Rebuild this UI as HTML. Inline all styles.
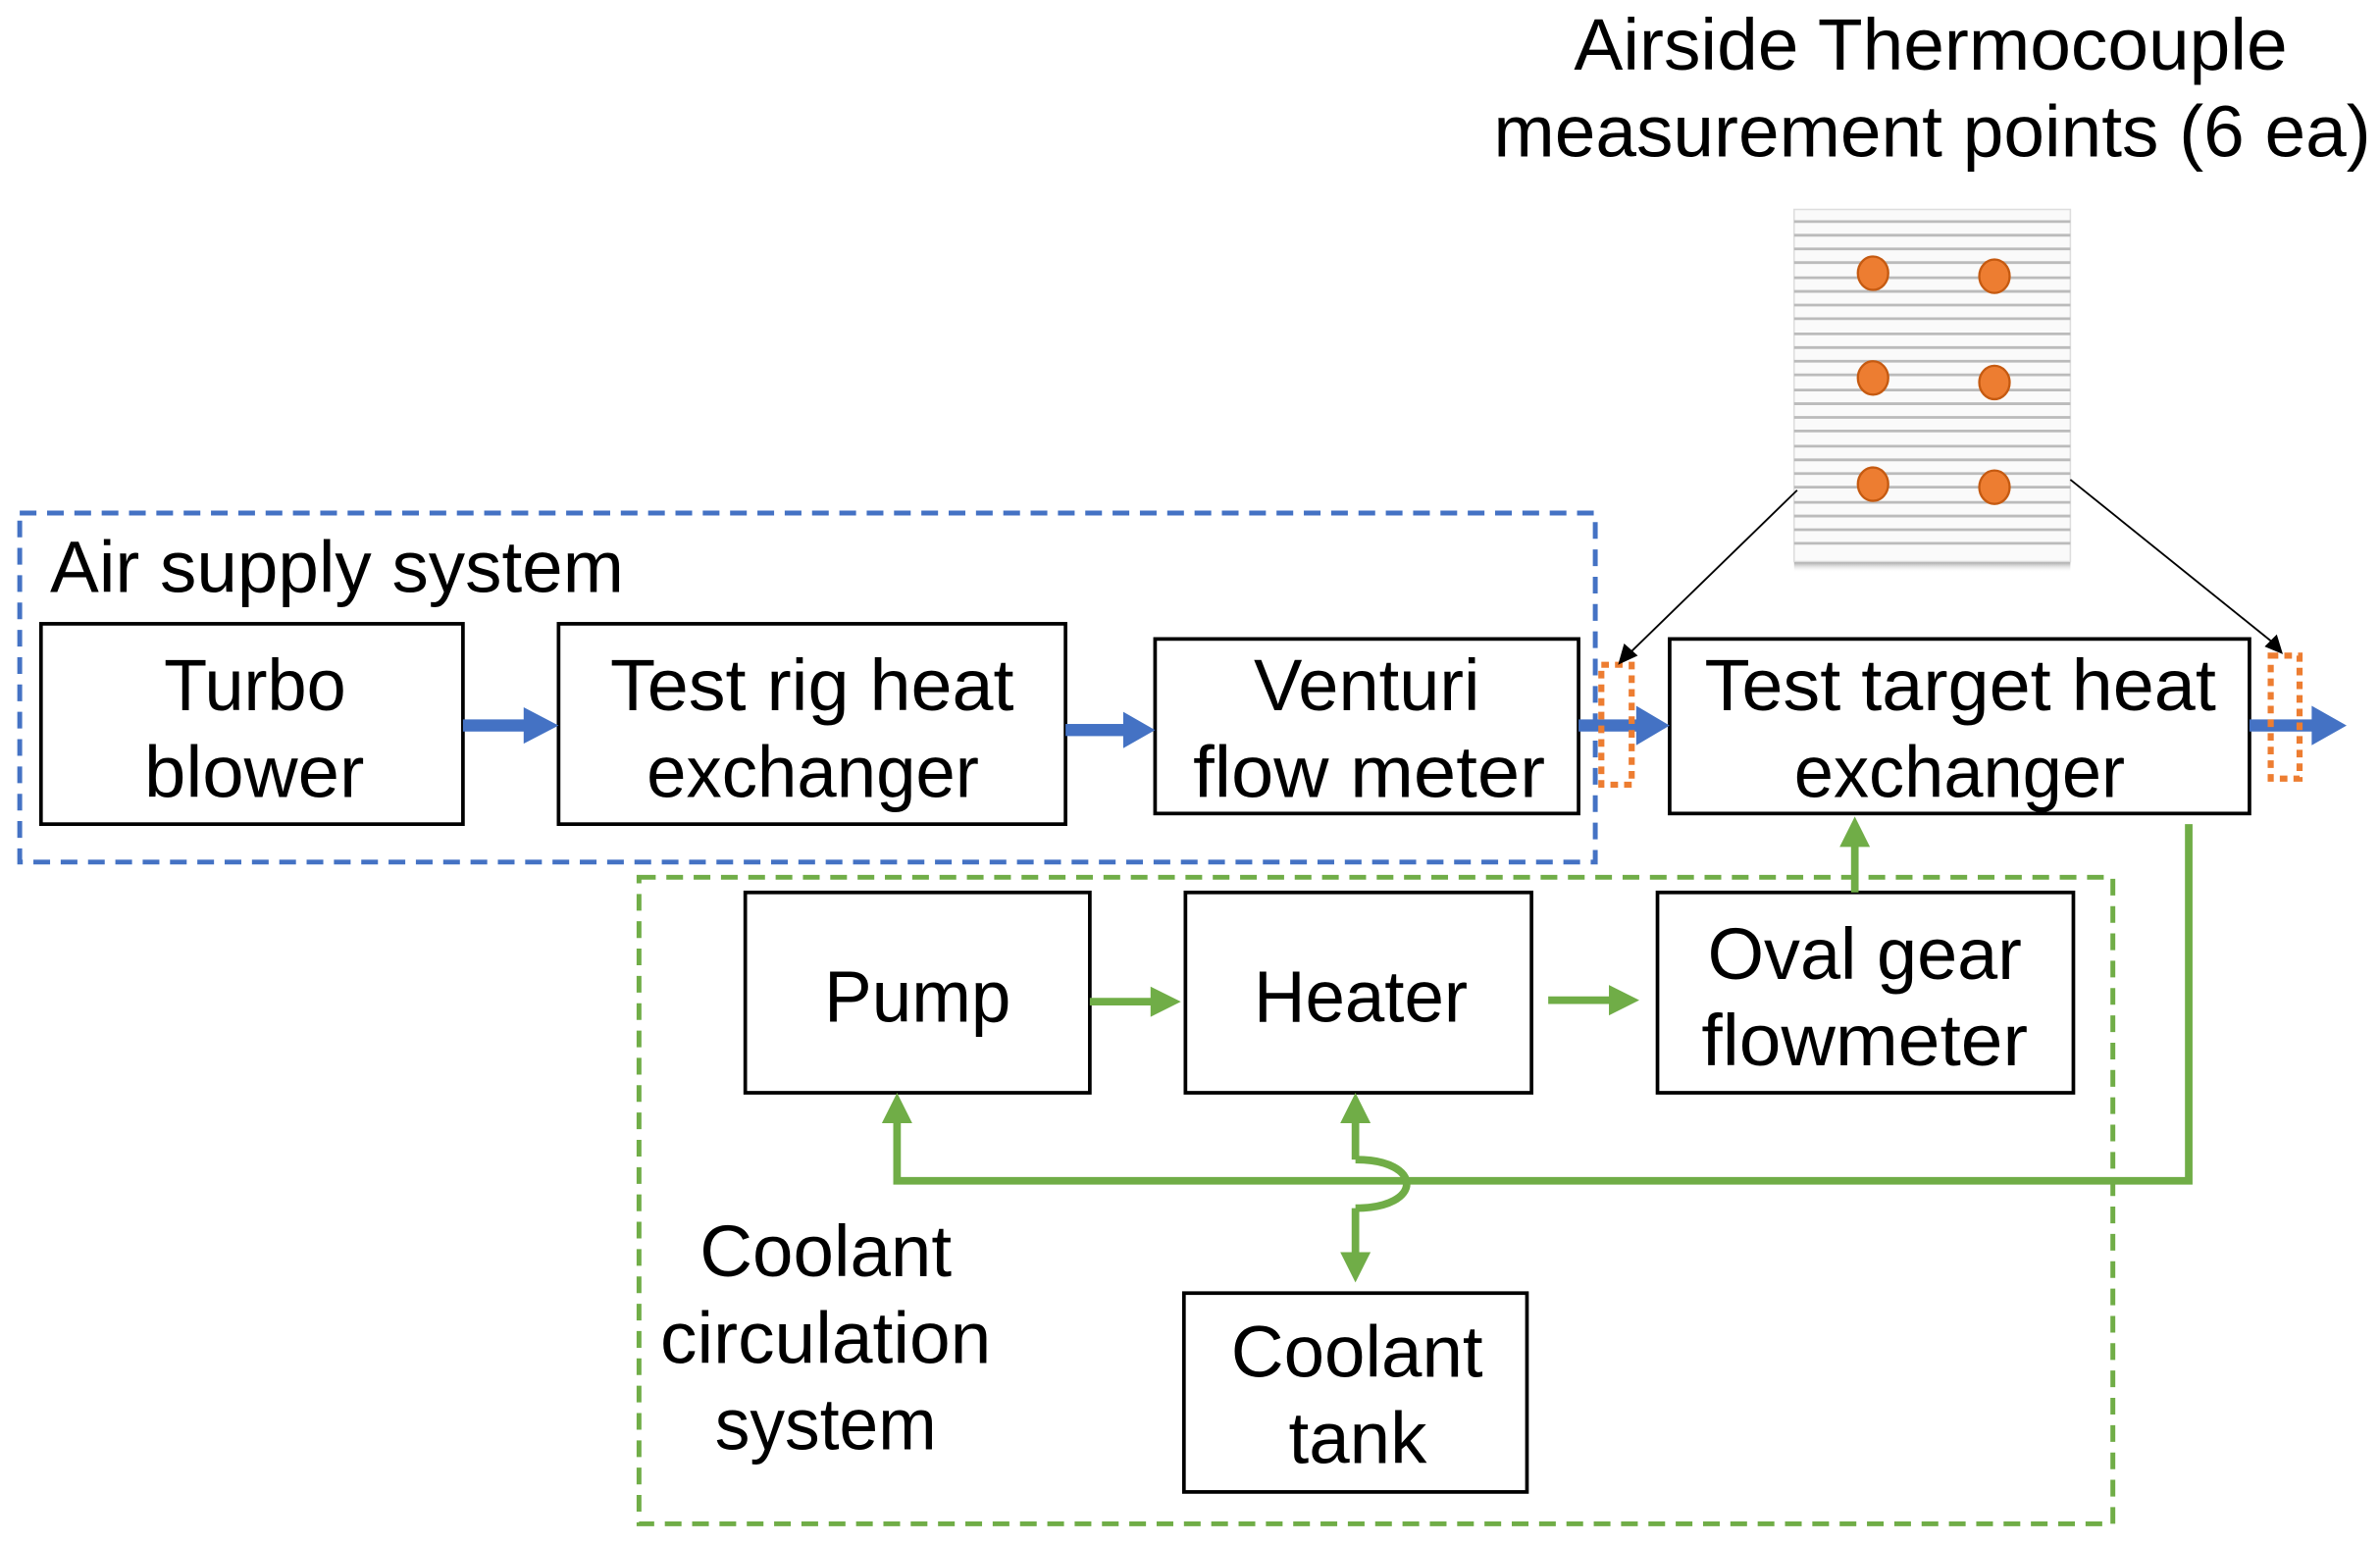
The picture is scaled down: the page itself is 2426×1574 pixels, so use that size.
<!DOCTYPE html>
<html><head><meta charset="utf-8"><style>html,body{margin:0;padding:0;background:#fff}svg{display:block}text{font-family:"Liberation Sans",sans-serif;fill:#000}</style></head><body>
<svg width="2426" height="1574" viewBox="0 0 1568 1017.3" preserveAspectRatio="none" xmlns="http://www.w3.org/2000/svg">
<defs>
<linearGradient id="sh" x1="0" y1="0" x2="0" y2="1"><stop offset="0" stop-color="#999"/><stop offset="1" stop-color="#fff" stop-opacity="0"/></linearGradient>
</defs>
<g font-size="48">
<text x="1037" y="46" textLength="470" lengthAdjust="spacingAndGlyphs">Airside Thermocouple</text>
<text x="984" y="103" textLength="578" lengthAdjust="spacingAndGlyphs">measurement points (6 ea)</text>
<text x="33" y="390" textLength="378" lengthAdjust="spacingAndGlyphs">Air supply system</text>
<text x="108" y="468" textLength="120" lengthAdjust="spacingAndGlyphs">Turbo</text>
<text x="95" y="525" textLength="145" lengthAdjust="spacingAndGlyphs">blower</text>
<text x="402" y="468" textLength="266" lengthAdjust="spacingAndGlyphs">Test rig heat</text>
<text x="426" y="525" textLength="219" lengthAdjust="spacingAndGlyphs">exchanger</text>
<text x="826" y="468" textLength="149" lengthAdjust="spacingAndGlyphs">Venturi</text>
<text x="786" y="525" textLength="232" lengthAdjust="spacingAndGlyphs">flow meter</text>
<text x="1123" y="468" textLength="337" lengthAdjust="spacingAndGlyphs">Test target heat</text>
<text x="1182" y="525" textLength="218" lengthAdjust="spacingAndGlyphs">exchanger</text>
<text x="543" y="673" textLength="123" lengthAdjust="spacingAndGlyphs">Pump</text>
<text x="826" y="673" textLength="141" lengthAdjust="spacingAndGlyphs">Heater</text>
<text x="1125" y="645" textLength="207" lengthAdjust="spacingAndGlyphs">Oval gear</text>
<text x="1121" y="702" textLength="215" lengthAdjust="spacingAndGlyphs">flowmeter</text>
<text x="461" y="841" textLength="166" lengthAdjust="spacingAndGlyphs">Coolant</text>
<text x="435" y="898" textLength="218" lengthAdjust="spacingAndGlyphs">circulation</text>
<text x="471" y="955" textLength="146" lengthAdjust="spacingAndGlyphs">system</text>
<text x="811" y="907" textLength="166" lengthAdjust="spacingAndGlyphs">Coolant</text>
<text x="849" y="964" textLength="91" lengthAdjust="spacingAndGlyphs">tank</text>
</g>
<rect x="13" y="338" width="1038" height="230" fill="none" stroke="#4472c4" stroke-width="3.2" stroke-dasharray="11,7"/>
<rect x="421" y="578" width="971" height="426" fill="none" stroke="#70ad47" stroke-width="3.2" stroke-dasharray="11,7"/>
<g fill="none" stroke="#000" stroke-width="2.4">
<rect x="27" y="411" width="278" height="132"/>
<rect x="368" y="411" width="334" height="132"/>
<rect x="761" y="421" width="279" height="115"/>
<rect x="1100" y="421" width="382" height="115"/>
<rect x="491" y="588" width="227" height="132"/>
<rect x="781" y="588" width="228" height="132"/>
<rect x="1092" y="588" width="274" height="132"/>
<rect x="780" y="852" width="226" height="131"/>
</g>
<g fill="#4472c4">
<rect x="305" y="474" width="42" height="8"/><path d="M345,466L368,478L345,490Z"/>
<rect x="702" y="477" width="40" height="8"/><path d="M740,469L761,481L740,493Z"/>
<rect x="1040" y="474" width="40" height="8"/><path d="M1078,465L1100,478L1078,491Z"/>
<rect x="1482" y="474" width="43" height="8"/><path d="M1523,465L1546,478L1523,491Z"/>
</g>
<rect x="1055" y="438" width="20" height="79" fill="none" stroke="#ed7d31" stroke-width="4" stroke-dasharray="5,4"/>
<rect x="1496" y="432" width="19" height="81" fill="none" stroke="#ed7d31" stroke-width="4" stroke-dasharray="5,4"/>
<rect x="1182" y="370" width="182" height="7" fill="url(#sh)"/>
<rect x="1182" y="138" width="182" height="232" fill="#fafafa" stroke="#ddd" stroke-width="1"/>
<g stroke="#bbb" stroke-width="1.8">
<path d="M1182,146H1364M1182,155H1364M1182,164H1364M1182,173H1364M1182,183H1364M1182,192H1364M1182,201H1364M1182,210H1364M1182,220H1364M1182,229H1364M1182,238H1364M1182,247H1364M1182,257H1364M1182,266H1364M1182,275H1364M1182,284H1364M1182,294H1364M1182,303H1364M1182,312H1364M1182,321H1364M1182,331H1364M1182,340H1364M1182,349H1364M1182,358H1364"/>
</g>
<g fill="#ed7d31" stroke="#c55a11" stroke-width="1.5">
<ellipse cx="1234" cy="180" rx="10" ry="11"/><ellipse cx="1314" cy="182" rx="10" ry="11"/>
<ellipse cx="1234" cy="249" rx="10" ry="11"/><ellipse cx="1314" cy="252" rx="10" ry="11"/>
<ellipse cx="1234" cy="319" rx="10" ry="11"/><ellipse cx="1314" cy="321" rx="10" ry="11"/>
</g>
<g stroke="#000" stroke-width="1.2"><line x1="1184" y1="323" x2="1074" y2="430"/><line x1="1364" y1="316" x2="1497" y2="423"/></g>
<path d="M1066,438L1070,424L1079,432Z" fill="#000"/>
<path d="M1504,431L1492,426L1500,418Z" fill="#000"/>
<g fill="none" stroke="#70ad47" stroke-width="5">
<path d="M718,660H760"/><path d="M1020,659H1062"/><path d="M1222,588V556"/>
<path d="M1442,543V778H591V738"/>
<path d="M893,764V738"/>
<path d="M893,764C938,764 938,796 893,796"/>
<path d="M893,796V828"/>
</g>
<g fill="#70ad47">
<path d="M758,650L778,660L758,670Z"/><path d="M1060,649L1080,659L1060,669Z"/>
<path d="M1212,558L1222,538L1232,558Z"/>
<path d="M581,740L591,720L601,740Z"/><path d="M883,740L893,720L903,740Z"/>
<path d="M883,825L893,845L903,825Z"/>
</g>
</svg>
</body></html>
